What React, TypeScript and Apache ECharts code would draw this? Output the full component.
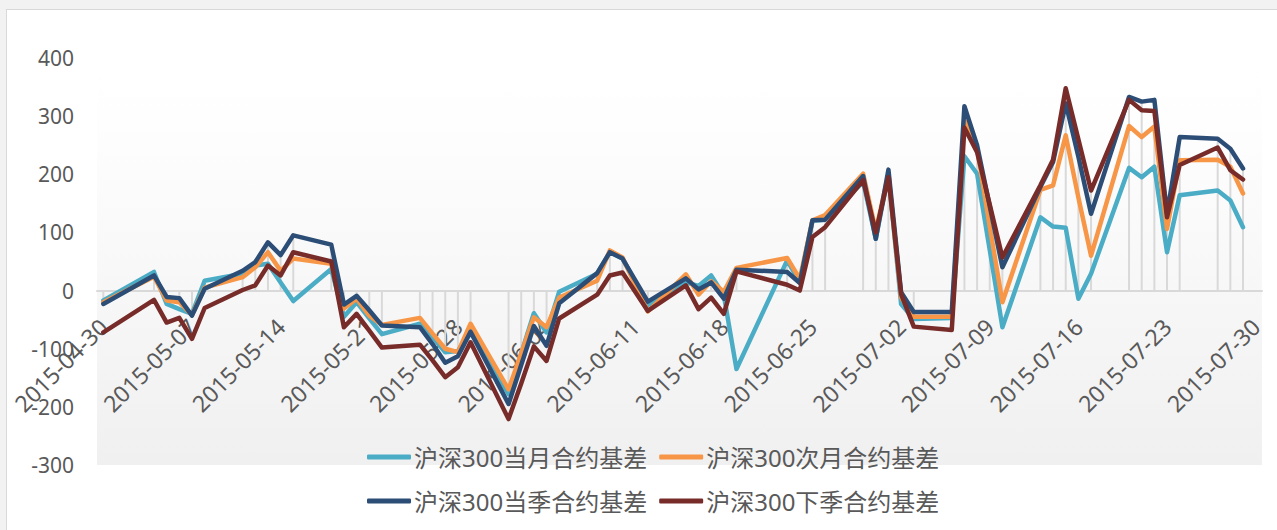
import React, { useEffect, useRef } from "react";
import * as echarts from "echarts";

const dates = [
  "2015-04-30", "2015-05-04", "2015-05-05", "2015-05-06", "2015-05-07", "2015-05-08",
  "2015-05-11", "2015-05-12", "2015-05-13", "2015-05-14", "2015-05-15",
  "2015-05-18", "2015-05-19", "2015-05-20", "2015-05-21", "2015-05-22",
  "2015-05-25", "2015-05-26", "2015-05-27", "2015-05-28", "2015-05-29",
  "2015-06-01", "2015-06-02", "2015-06-03", "2015-06-04", "2015-06-05",
  "2015-06-08", "2015-06-09", "2015-06-10", "2015-06-11", "2015-06-12",
  "2015-06-15", "2015-06-16", "2015-06-17", "2015-06-18", "2015-06-19",
  "2015-06-23", "2015-06-24", "2015-06-25", "2015-06-26",
  "2015-06-29", "2015-06-30", "2015-07-01", "2015-07-02", "2015-07-03",
  "2015-07-06", "2015-07-07", "2015-07-08", "2015-07-09", "2015-07-10",
  "2015-07-13", "2015-07-14", "2015-07-15", "2015-07-16", "2015-07-17",
  "2015-07-20", "2015-07-21", "2015-07-22", "2015-07-23", "2015-07-24",
  "2015-07-27", "2015-07-28", "2015-07-29",
];

const currentMonth = [
  -17, 32, -23, -32, -40, 17,
  29, 43, 46, 14, -18,
  37, -45, -20, -48, -75,
  -57, -80, -106, -104, -68,
  -178, -108, -39, -72, -2,
  29, 66, 55, 15, -25,
  14, 8, 26, -8, -135,
  52, 14, 120, 122,
  187, 89, 200, -23, -49,
  -47, 231, 201, 70, -63,
  126, 110, 108, -14, 29,
  211, 195, 213, 66, 164,
  172, 155, 109,
];

const nextMonth = [
  -20, 24, -17, -20, -42, 5,
  23, 40, 66, 34, 55,
  46, -31, -14, -43, -59,
  -47, -74, -100, -106, -57,
  -170, -108, -46, -63, -12,
  17, 69, 57, 10, -36,
  28, -7, 16, -2, 39,
  56, 20, 121, 130,
  201, 103, 200, -12, -45,
  -45, 293, 245, 110, -20,
  173, 181, 267, 160, 60,
  283, 264, 282, 106, 224,
  225, 213, 167,
];

const currentQuarter = [
  -23, 26, -11, -13, -43, 3,
  34, 49, 83, 61, 95,
  79, -24, -9, -34, -60,
  -63, -92, -124, -113, -71,
  -195, -128, -61, -95, -22,
  30, 66, 55, 18, -19,
  21, 2, 14, -14, 36,
  32, 13, 121, 122,
  197, 89, 208, -3, -37,
  -37, 317, 250, 145, 40,
  178, 221, 322, 230, 132,
  333, 325, 328, 132, 264,
  261, 244, 210,
];

const nextQuarter = [
  -72, -16, -55, -47, -83, -30,
  1, 9, 43, 26, 66,
  50, -63, -40, -69, -98,
  -93, -120, -149, -132, -89,
  -221, -160, -96, -121, -48,
  -7, 26, 31, -2, -35,
  9, -32, -12, -40, 33,
  10, 0, 92, 109,
  190, 100, 195, -6, -62,
  -68, 280, 238, 148, 57,
  181, 225, 348, 260, 172,
  328, 310, 309, 126, 216,
  246, 207, 191,
];

const seriesNames = [
  "沪深300当月合约基差",
  "沪深300次月合约基差",
  "沪深300当季合约基差",
  "沪深300下季合约基差",
];

const xTickLabels = [
  "2015-04-30", "2015-05-07", "2015-05-14", "2015-05-21", "2015-05-28",
  "2015-06-04", "2015-06-11", "2015-06-18", "2015-06-25", "2015-07-02",
  "2015-07-09", "2015-07-16", "2015-07-23", "2015-07-30",
];

const yMin = -300;
const yMax = 400;
const yStep = 100;

const colors = ["#4bacc6", "#f79646", "#2c4d75", "#772c2a"];

const BASE = Date.UTC(2015, 3, 30);
function dayOf(s: string): number {
  const [y, m, d] = s.split("-").map(Number);
  return Math.round((Date.UTC(y, m - 1, d) - BASE) / 86400000);
}
function labelOf(day: number): string {
  const t = new Date(BASE + day * 86400000);
  const mm = String(t.getUTCMonth() + 1).padStart(2, "0");
  const dd = String(t.getUTCDate()).padStart(2, "0");
  return `${t.getUTCFullYear()}-${mm}-${dd}`;
}

const FONT = "'Noto Sans', 'Noto Sans CJK SC', sans-serif";
const TEXT_COLOR = "#595959";

const GRID_TOP = 58;
const GRID_BOTTOM = 65;
const CHART_H = 530;

export default function App() {
  const ref = useRef<HTMLDivElement>(null);

  useEffect(() => {
    if (!ref.current) return;
    const chart = echarts.init(ref.current, undefined, { renderer: "svg" });
    const allSeries = [currentMonth, nextMonth, currentQuarter, nextQuarter];
    const days = dates.map(dayOf);
    const tickDays = xTickLabels.map(dayOf);
    const dropData = days.map((d, i) => [d, Math.max(...allSeries.map((s) => s[i]))]);

    const gridH = CHART_H - GRID_TOP - GRID_BOTTOM;
    const zeroOffset = -(gridH * (0 - yMin)) / (yMax - yMin);

    const lineSeries = allSeries.map((vals, k) => ({
      name: seriesNames[k],
      type: "line",
      data: days.map((d, i) => [d, vals[i]]),
      showSymbol: false,
      symbol: "none",
      color: colors[k],
      lineStyle: { width: 4.5, color: colors[k], cap: "round", join: "round" },
      z: 3 + k,
    }));

    const legendCommon = {
      icon: "roundRect",
      itemWidth: 44,
      itemHeight: 5,
      itemGap: 12,
      textStyle: { color: TEXT_COLOR, fontSize: 24, fontFamily: FONT, padding: [0, 0, 0, -2] },
    };

    chart.setOption({
      animation: false,
      textStyle: { fontFamily: FONT },
      grid: {
        left: 97,
        right: 15,
        top: GRID_TOP,
        bottom: GRID_BOTTOM,
        outerBoundsMode: "none",
        containLabel: false,
        show: true,
        borderWidth: 0,
        backgroundColor: new echarts.graphic.LinearGradient(0, 0, 0, 1, [
          { offset: 0, color: "#ffffff" },
          { offset: 0.15, color: "#fefefe" },
          { offset: 1, color: "#f0f0f0" },
        ]),
      },
      legend: [
        { ...legendCommon, data: [seriesNames[0], seriesNames[1]], left: 362, top: 440 },
        { ...legendCommon, data: [seriesNames[2], seriesNames[3]], left: 362, top: 484 },
      ],
      xAxis: {
        type: "value",
        min: -0.5,
        max: 91.5,
        position: "bottom",
        offset: zeroOffset,
        axisLine: { show: true, onZero: false, lineStyle: { color: "#d9d9d9", width: 2 } },
        axisTick: { show: false },
        splitLine: { show: false },
        axisLabel: {
          customValues: tickDays,
          rotate: 45,
          margin: 32,
          color: TEXT_COLOR,
          fontSize: 23,
          fontFamily: FONT,
          hideOverlap: false,
          formatter: (v: number) => labelOf(v),
        },
      },
      yAxis: {
        type: "value",
        min: yMin,
        max: yMax,
        interval: yStep,
        axisLine: { show: false },
        axisTick: { show: false },
        splitLine: { show: false },
        axisLabel: { color: TEXT_COLOR, fontSize: 21, margin: 23, fontFamily: FONT },
      },
      series: [
        {
          type: "custom",
          name: "drop",
          data: dropData,
          z: 1,
          silent: true,
          renderItem: (params: any, api: any) => {
            const x = api.value(0);
            const p0 = api.coord([x, 0]);
            const p1 = api.coord([x, api.value(1)]);
            return {
              type: "line",
              shape: { x1: p0[0], y1: p0[1], x2: p1[0], y2: p1[1] },
              style: { stroke: "#d9d9d9", lineWidth: 2 },
            };
          },
        },
        ...lineSeries,
      ],
    });
    return () => chart.dispose();
  }, []);

  return (
    <div
      style={{
        position: "fixed",
        left: 0,
        top: 0,
        width: 1277,
        height: 530,
        background: "#f2f2f2",
        overflow: "hidden",
      }}
    >
      <div
        style={{
          position: "absolute",
          left: 6,
          top: 9,
          width: 1290,
          height: 540,
          background: "#ffffff",
          border: "1px solid #d9d9d9",
        }}
      />
      <div ref={ref} style={{ position: "absolute", left: 0, top: 0, width: 1277, height: 530 }} />
    </div>
  );
}
